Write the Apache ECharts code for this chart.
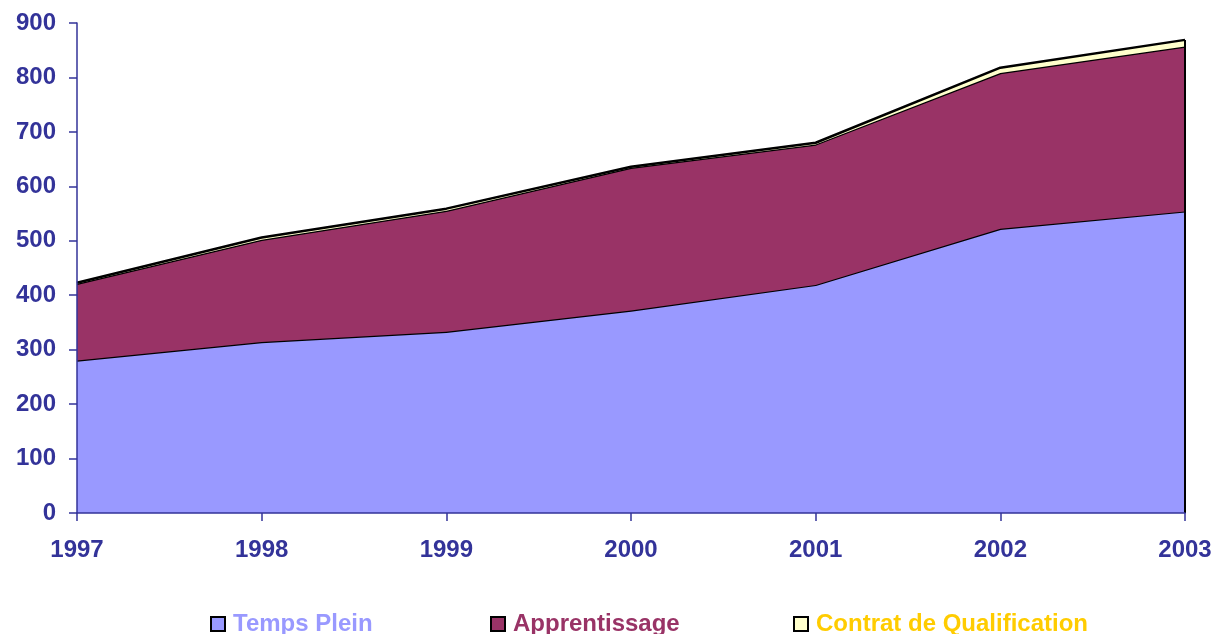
<!DOCTYPE html>
<html>
<head>
<meta charset="utf-8">
<script src="https://cdn.jsdelivr.net/npm/echarts@6/dist/echarts.min.js"></script>
<style>html,body{margin:0;padding:0;background:#fff}#c{width:1216px;height:634px}</style>
</head>
<body>
<div id="c"></div>
<script>
const years = ['1997','1998','1999','2000','2001','2002','2003'];
const tempsPlein = [280, 314, 333, 372, 419, 522, 554];
const apprentissage = [141, 188, 222, 262, 258, 286, 303];
const contratQualif = [2, 4, 4, 2, 3, 10, 12];
const yTicks = [0, 100, 200, 300, 400, 500, 600, 700, 800, 900];

const names = ['Temps Plein', 'Apprentissage', 'Contrat de Qualification'];
const fills = ['#9999FF', '#993366', '#FFFFCC'];
const textColors = ['#9999FF', '#993366', '#FFCC00'];
const seriesData = [tempsPlein, apprentissage, contratQualif];

const font = '"Liberation Sans", Arial, sans-serif';
const axisColor = '#333399';

const lastIdx = years.length - 1;
const total = tempsPlein[lastIdx] + apprentissage[lastIdx] + contratQualif[lastIdx];

const series = seriesData.map((d, i) => ({
  name: names[i],
  type: 'line',
  stack: 'tot',
  data: d,
  symbol: 'none',
  lineStyle: { color: '#000', width: 2.5 },
  itemStyle: { color: fills[i], borderColor: '#000', borderWidth: 1.5 },
  areaStyle: { color: fills[i], opacity: 1 },
  z: 2 + i
}));
series[2].markLine = {
  symbol: 'none', silent: true, label: { show: false },
  lineStyle: { color: '#000', width: 2, type: 'solid' },
  data: [[{ coord: [years[lastIdx], 0] }, { coord: [years[lastIdx], total] }]]
};

const legendLefts = [205, 485, 788];
const legends = names.map((n, i) => ({
  left: legendLefts[i], top: 607,
  icon: 'rect', itemWidth: 14, itemHeight: 14, itemGap: 8,
  itemStyle: { borderColor: '#000', borderWidth: 2 },
  data: [{ name: n, textStyle: { color: textColors[i] } }],
  textStyle: { fontFamily: font, fontWeight: 'bold', fontSize: 24, color: textColors[i], padding: [0, 0, 0, 3] },
  selectedMode: false
}));

const chart = echarts.init(document.getElementById('c'), null, { renderer: 'canvas' });
chart.setOption({
  animation: false,
  backgroundColor: '#fff',
  grid: { left: 77, right: 31, top: 23, bottom: 121, containLabel: false },
  legend: legends,
  xAxis: {
    type: 'category', data: years, boundaryGap: false, z: 10,
    axisLine: { lineStyle: { color: axisColor, width: 1.5 } },
    axisTick: { show: true, inside: false, length: 8, lineStyle: { color: axisColor, width: 1.5 } },
    axisLabel: { color: axisColor, fontFamily: font, fontWeight: 'bold', fontSize: 24, margin: 25 },
    splitLine: { show: false }
  },
  yAxis: {
    type: 'value', min: yTicks[0], max: yTicks[yTicks.length - 1], interval: 100, z: 10,
    axisLine: { show: true, lineStyle: { color: axisColor, width: 1.5 } },
    axisTick: { show: true, inside: false, length: 8, lineStyle: { color: axisColor, width: 1.5 } },
    axisLabel: { color: axisColor, fontFamily: font, fontWeight: 'bold', fontSize: 24, margin: 21 },
    splitLine: { show: false }
  },
  series: series
});
</script>
</body>
</html>
